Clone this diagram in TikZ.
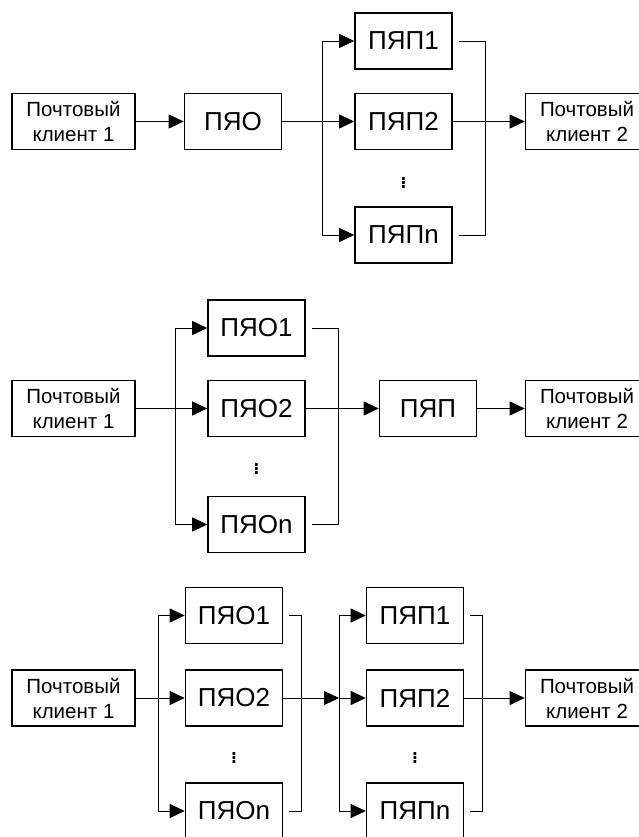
\documentclass[tikz,border=0pt]{standalone}
\usepackage{fontspec}
\setmainfont{Liberation Sans}
\usetikzlibrary{arrows.meta}

\begin{document}
\begin{tikzpicture}[x=1pt,y=-1pt,>={Triangle[length=15pt,width=14pt]}]

% sizes and fonts
\def\blokWidth{97}
\def\klientWidth{123}
\def\blokHeight{56}
\def\klientFont{\fontsize{20.5}{25}\selectfont}
\def\blokFont{\fontsize{26}{30}\selectfont}

\tikzset{
    blok/.style={draw, line width=1.6pt, minimum width=\blokWidth, minimum height=\blokHeight, inner sep=0pt, font=\blokFont},
    klient/.style={draw, line width=1.6pt, minimum width=\klientWidth, minimum height=\blokHeight, inner sep=0pt, align=center, font=\klientFont},
    svyaz/.style={line width=0.9pt},
    strelka/.style={svyaz, ->},
    razryv/.style={svyaz, shorten <=6pt},
    tochki/.style={inner sep=0pt, font=\fontsize{28}{28}\selectfont}
}

% picture frame
\clip (0,0) rectangle (639,837);

% ---------- scheme 1: one ПЯО, several ПЯП ----------
\node[klient] (klientA1) at (73.5,121.5) {Почтовый\\клиент 1};
\node[blok] (pyoA) at (233,121.5) {ПЯО};
\node[blok] (pypA1) at (403.5,41) {ПЯП1};
\node[blok] (pypA2) at (403.5,121.5) {ПЯП2};
\node[blok] (pypAn) at (403.5,235) {ПЯПn};
\node[tochki] (dotsA) at (403.5,180) {$\vdots$};
\node[klient] (klientA2) at (587,121.5) {Почтовый\\клиент 2};

\coordinate (razvA) at (322,121.5);
\coordinate (slivA) at (485,121.5);

\draw[strelka] (klientA1) -- (pyoA);
\draw[strelka] (pyoA) -- (pypA2);
\draw[strelka] (razvA) |- (pypA1);
\draw[strelka] (razvA) |- (pypAn);
\draw[razryv] (pypA1) -| (slivA);
\draw[razryv] (pypAn) -| (slivA);
\draw[strelka] (pypA2) -- (klientA2);

% ---------- scheme 2: several ПЯО, one ПЯП ----------
\node[klient] (klientB1) at (73.5,408.5) {Почтовый\\клиент 1};
\node[blok] (pyoB1) at (256.5,328) {ПЯО1};
\node[blok] (pyoB2) at (256.5,408.5) {ПЯО2};
\node[blok] (pyoBn) at (256.5,524.5) {ПЯОn};
\node[tochki] (dotsB) at (256.5,466) {$\vdots$};
\node[blok] (pypB) at (428,408.5) {ПЯП};
\node[klient] (klientB2) at (587,408.5) {Почтовый\\клиент 2};

\coordinate (razvB) at (175,408.5);
\coordinate (slivB) at (338,408.5);

\draw[strelka] (klientB1) -- (pyoB2);
\draw[strelka] (razvB) |- (pyoB1);
\draw[strelka] (razvB) |- (pyoBn);
\draw[razryv] (pyoB1) -| (slivB);
\draw[razryv] (pyoBn) -| (slivB);
\draw[strelka] (pyoB2) -- (pypB);
\draw[strelka] (pypB) -- (klientB2);

% ---------- scheme 3: several ПЯО, several ПЯП ----------
\node[klient] (klientC1) at (73.5,698) {Почтовый\\клиент 1};
\node[blok] (pyoC1) at (234,615.5) {ПЯО1};
\node[blok] (pyoC2) at (234,698) {ПЯО2};
\node[blok] (pyoCn) at (234,811) {ПЯОn};
\node[tochki] (dotsC1) at (234,755) {$\vdots$};
\node[blok] (pypC1) at (415,615.5) {ПЯП1};
\node[blok] (pypC2) at (415,698) {ПЯП2};
\node[blok] (pypCn) at (415,811) {ПЯПn};
\node[tochki] (dotsC2) at (415,755) {$\vdots$};
\node[klient] (klientC2) at (587,698) {Почтовый\\клиент 2};

\coordinate (razvC1) at (158,698);
\coordinate (slivC1) at (301,698);
\coordinate (razvC2) at (339,698);
\coordinate (slivC2) at (482,698);

\draw[strelka] (klientC1) -- (pyoC2);
\draw[strelka] (razvC1) |- (pyoC1);
\draw[strelka] (razvC1) |- (pyoCn);
\draw[razryv] (pyoC1) -| (slivC1);
\draw[razryv] (pyoCn) -| (slivC1);
\draw[strelka] (pyoC2) -- (razvC2);
\draw[strelka] (razvC2) -- (pypC2);
\draw[strelka] (razvC2) |- (pypC1);
\draw[strelka] (razvC2) |- (pypCn);
\draw[razryv] (pypC1) -| (slivC2);
\draw[razryv] (pypCn) -| (slivC2);
\draw[strelka] (pypC2) -- (klientC2);

\end{tikzpicture}
\end{document}
